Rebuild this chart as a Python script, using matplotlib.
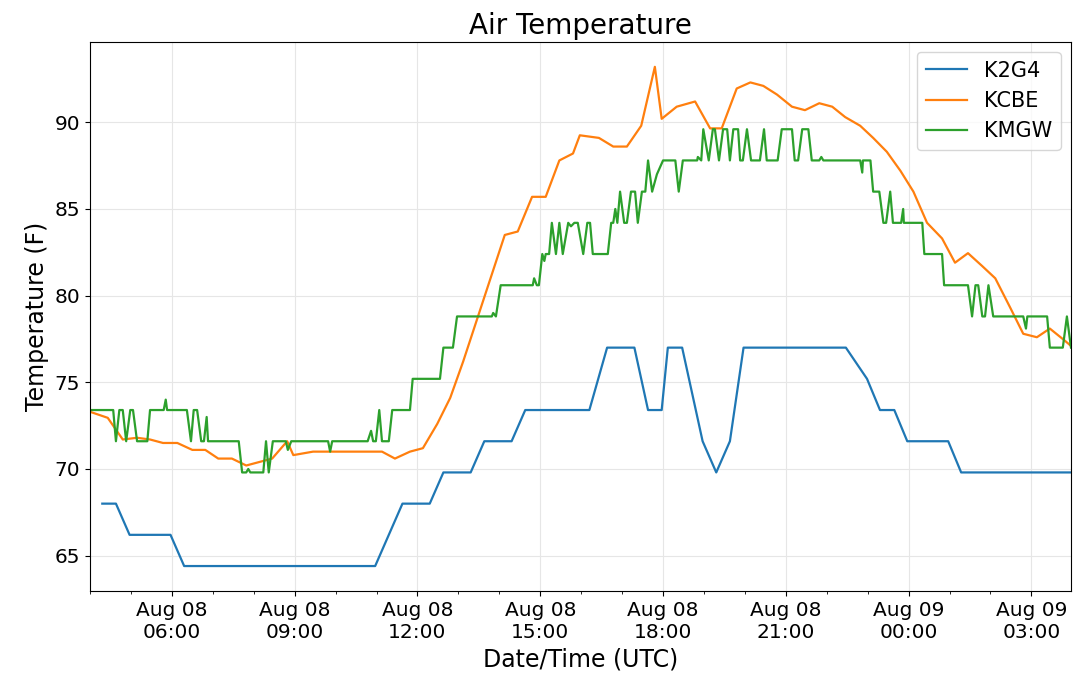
import numpy as np
import pandas as pd
import matplotlib
matplotlib.use('Agg')
import matplotlib.pyplot as plt
import matplotlib.dates as mdates

# Observation times (UTC, starting Aug 08; hours before 04:00 roll into Aug 09)
k2g4_times = ['04:18', '04:38', '04:58', '05:58', '06:18', '10:58', '11:38', '12:18',
              '12:38', '13:18', '13:38', '14:18', '14:38', '16:12', '16:38', '17:18',
              '17:38', '17:58', '18:07', '18:28', '18:58', '19:18', '19:38', '19:58',
              '22:28', '22:59', '23:18', '23:39', '23:58', '00:58', '01:17', '03:58']
k2g4_temp = [68.0, 68.0, 66.2, 66.2, 64.4, 64.4, 68.0, 68.0,
             69.8, 69.8, 71.6, 71.6, 73.4, 73.4, 77.0, 77.0,
             73.4, 73.4, 77.0, 77.0, 71.6, 69.8, 71.6, 77.0,
             77.0, 75.2, 73.4, 73.4, 71.6, 71.6, 69.8, 69.8]

kcbe_times = ['04:00', '04:26', '04:48', '05:09', '05:28', '05:47', '06:08', '06:30',
              '06:49', '07:08', '07:28', '07:49', '08:27', '08:49', '08:58', '09:27',
              '11:08', '11:27', '11:49', '12:08', '12:29', '12:48', '13:07', '14:08',
              '14:27', '14:48', '15:08', '15:28', '15:48', '15:58', '16:26', '16:47',
              '17:07', '17:28', '17:48', '17:58', '18:20', '18:47', '19:09', '19:26',
              '19:48', '20:08', '20:27', '20:47', '21:09', '21:28', '21:49', '22:08',
              '22:27', '22:49', '23:08', '23:28', '23:48', '00:07', '00:27', '00:49',
              '01:08', '01:27', '01:48', '02:07', '02:29', '02:48', '03:08', '03:27',
              '03:49', '03:58']
kcbe_temp = [73.3, 72.95, 71.7, 71.8, 71.7, 71.5, 71.5, 71.1,
             71.1, 70.6, 70.6, 70.2, 70.6, 71.6, 70.8, 71.0,
             71.0, 70.6, 71.0, 71.2, 72.6, 74.1, 76.2, 83.5,
             83.7, 85.7, 85.7, 87.8, 88.2, 89.25, 89.1, 88.6,
             88.6, 89.8, 93.2, 90.2, 90.9, 91.2, 89.65, 89.65,
             91.95, 92.3, 92.1, 91.6, 90.9, 90.7, 91.1, 90.9,
             90.3, 89.8, 89.1, 88.3, 87.2, 86.0, 84.2, 83.3,
             81.9, 82.45, 81.7, 81.0, 79.3, 77.8, 77.6, 78.1,
             77.4, 77.1]

kmgw_times = ['04:00', '04:34', '04:38', '04:43', '04:48', '04:53', '04:59', '05:03',
              '05:09', '05:24', '05:28', '05:48', '05:51', '05:53', '06:22', '06:28',
              '06:32', '06:37', '06:43', '06:47', '06:51', '06:53', '07:38', '07:43',
              '07:49', '07:52', '07:55', '08:14', '08:18', '08:22', '08:28', '08:47',
              '08:50', '08:55', '09:49', '09:52', '09:55', '10:47', '10:52', '10:55',
              '10:59', '11:04', '11:08', '11:18', '11:23', '11:49', '11:53', '12:33',
              '12:38', '12:52', '12:58', '13:49', '13:51', '13:55', '14:02', '14:49',
              '14:51', '14:55', '14:58', '15:03', '15:06', '15:08', '15:13', '15:17',
              '15:23', '15:28', '15:33', '15:41', '15:45', '15:50', '15:55', '16:03',
              '16:09', '16:13', '16:17', '16:39', '16:44', '16:47', '16:50', '16:53',
              '16:57', '17:03', '17:07', '17:13', '17:19', '17:23', '17:29', '17:34',
              '17:38', '17:44', '17:51', '18:00', '18:18', '18:23', '18:29', '18:50',
              '18:51', '18:56', '18:59', '19:07', '19:13', '19:16', '19:22', '19:28',
              '19:34', '19:38', '19:43', '19:50', '19:53', '19:57', '20:03', '20:09',
              '20:22', '20:28', '20:32', '20:48', '20:54', '21:09', '21:13', '21:18',
              '21:24', '21:33', '21:38', '21:49', '21:52', '21:55', '22:49', '22:52',
              '22:53', '23:04', '23:08', '23:17', '23:23', '23:27', '23:33', '23:37',
              '23:49', '23:52', '23:53', '00:20', '00:23', '00:49', '00:52', '01:27',
              '01:33', '01:38', '01:42', '01:48', '01:52', '01:57', '02:04', '02:48',
              '02:52', '02:54', '03:23', '03:27', '03:46', '03:52', '03:58']
kmgw_temp = [73.4, 73.4, 71.6, 73.4, 73.4, 71.6, 73.4, 73.4,
             71.6, 71.6, 73.4, 73.4, 74.0, 73.4, 73.4, 71.6,
             73.4, 73.4, 71.6, 71.6, 73.0, 71.6, 71.6, 69.8,
             69.8, 70.0, 69.8, 69.8, 71.6, 69.8, 71.6, 71.6,
             71.1, 71.6, 71.6, 71.0, 71.6, 71.6, 72.2, 71.6,
             71.6, 73.4, 71.6, 71.6, 73.4, 73.4, 75.2, 75.2,
             77.0, 77.0, 78.8, 78.8, 79.0, 78.8, 80.6, 80.6,
             81.0, 80.6, 80.6, 82.4, 82.0, 82.4, 82.4, 84.2,
             82.4, 84.2, 82.4, 84.2, 84.0, 84.2, 84.2, 82.4,
             84.2, 84.2, 82.4, 82.4, 84.2, 84.2, 85.0, 84.2,
             86.0, 84.2, 84.2, 86.0, 86.0, 84.2, 86.0, 86.0,
             87.8, 86.0, 87.0, 87.8, 87.8, 86.0, 87.8, 87.8,
             88.0, 87.8, 89.6, 87.8, 89.6, 89.6, 87.8, 89.6,
             89.6, 87.8, 89.6, 89.6, 87.8, 87.8, 89.6, 87.8,
             87.8, 89.6, 87.8, 87.8, 89.6, 89.6, 87.8, 87.8,
             89.6, 89.6, 87.8, 87.8, 88.0, 87.8, 87.8, 87.1,
             87.8, 87.8, 86.0, 86.0, 84.2, 84.2, 86.0, 84.2,
             84.2, 85.0, 84.2, 84.2, 82.4, 82.4, 80.6, 80.6,
             78.8, 80.6, 80.6, 78.8, 78.8, 80.6, 78.8, 78.8,
             78.1, 78.8, 78.8, 77.0, 77.0, 78.8, 77.0]


def to_datetimes(times):
    # times before 04:00 belong to the next day
    out = []
    for t in times:
        day = '2018-08-09' if int(t[:2]) < 4 else '2018-08-08'
        out.append(pd.Timestamp(f'{day} {t}'))
    return out


stations = {
    'K2G4': (to_datetimes(k2g4_times), k2g4_temp),
    'KCBE': (to_datetimes(kcbe_times), kcbe_temp),
    'KMGW': (to_datetimes(kmgw_times), kmgw_temp),
}

fig = plt.figure(figsize=(10.78, 6.83), dpi=100)
ax = fig.add_axes([0.0835, 0.1347, 0.91, 0.804])

for name, (t, temp) in stations.items():
    ax.plot(t, temp, label=name, linewidth=1.6)

ax.set_xlim(pd.Timestamp('2018-08-08 04:00'), pd.Timestamp('2018-08-09 03:58'))
ax.xaxis.set_major_locator(mdates.HourLocator(byhour=range(0, 24, 3)))
ax.xaxis.set_minor_locator(mdates.HourLocator())
ax.xaxis.set_major_formatter(mdates.DateFormatter('%b %d\n%H:%M'))

ax.tick_params(axis='both', which='major', labelsize=14.5)
ax.grid(True, which='major', color='#e6e6e6', linewidth=0.8)
ax.set_axisbelow(True)

ax.set_title('Air Temperature', fontsize=20)
ax.set_xlabel('Date/Time (UTC)', fontsize=17)
ax.set_ylabel('Temperature (F)', fontsize=17)
ax.legend(loc='upper right', fontsize=15)

fig.savefig('out.png', dpi=100)
